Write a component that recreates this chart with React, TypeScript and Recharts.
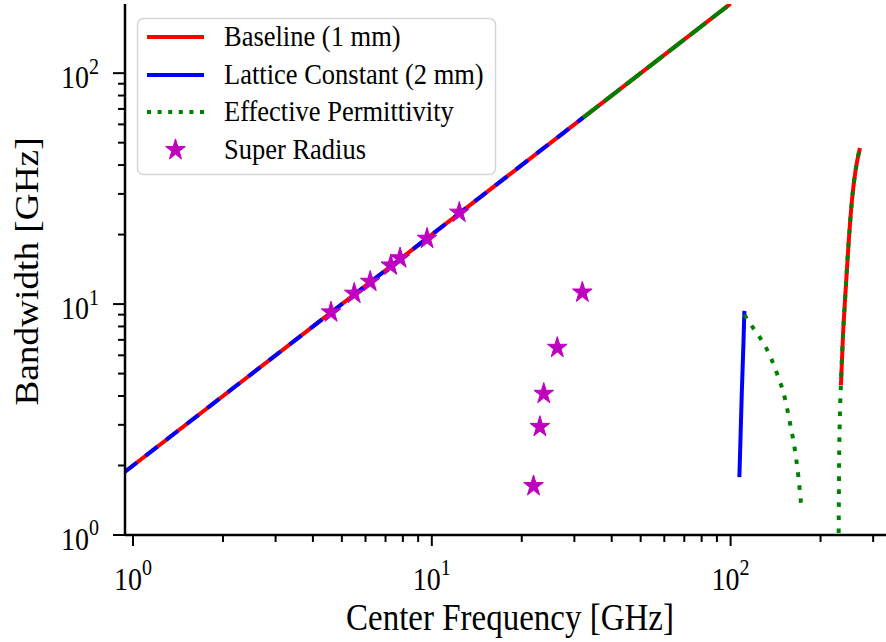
import React from "react";
import { ComposedChart, Line, Scatter, XAxis, YAxis, Legend, Label } from "recharts";

const FONT = "'Liberation Serif', 'Times New Roman', serif";
const RED = "#ff0000";
const BLUE = "#0000ff";
const GREEN = "#008000";
const MAGENTA = "#bf00bf";
// the source picture is a little taller than wide, so its text is stretched vertically
const SY = 1.12;

const X_DOMAIN = [0.94, 355];
const Y_DOMAIN = [1, 199.3];
const X_TICKS = [1, 2, 3, 4, 5, 6, 7, 8, 9, 10, 20, 30, 40, 50, 60, 70, 80, 90, 100, 200, 300];
const Y_TICKS = [1, 2, 3, 4, 5, 6, 7, 8, 9, 10, 20, 30, 40, 50, 60, 70, 80, 90, 100];

const SERIES_NAMES = ["Baseline (1 mm)", "Lattice Constant (2 mm)", "Effective Permittivity", "Super Radius"];

// Baseline (1 mm)
const baselineDiag = [
  { x: 0.94, y: 1.88 },
  { x: 3, y: 6 },
  { x: 10, y: 20 },
  { x: 32.1, y: 64.2 },
  { x: 100, y: 200 },
];
const baselineRight = [
  { x: 234, y: 4.46 },
  { x: 238, y: 7.5 },
  { x: 241.5, y: 10.4 },
  { x: 248, y: 18 },
  { x: 254.8, y: 28.2 },
  { x: 262, y: 38 },
  { x: 271, y: 47.4 },
];

// Lattice Constant (2 mm)
const latticeDiag = [
  { x: 0.94, y: 1.88 },
  { x: 10, y: 20 },
  { x: 32.1, y: 64.2 },
];
const latticeRight = [
  { x: 107, y: 1.78 },
  { x: 109, y: 4.1 },
  { x: 110.5, y: 7 },
  { x: 111.2, y: 9.35 },
];

// Effective Permittivity
const permDiag = [
  { x: 32.1, y: 64.2 },
  { x: 100, y: 200 },
];
const permMid = [
  { x: 111.2, y: 9.0 },
  { x: 118, y: 8.0 },
  { x: 125, y: 7.2 },
  { x: 132, y: 6.4 },
  { x: 143, y: 5.0 },
  { x: 152, y: 3.9 },
  { x: 158.5, y: 3.0 },
  { x: 164, y: 2.35 },
  { x: 168.5, y: 1.8 },
  { x: 172, y: 1.38 },
];
const permRight = [
  { x: 230, y: 1.02 },
  { x: 230.7, y: 2 },
  { x: 231.8, y: 3 },
  { x: 234, y: 4.46 },
  { x: 238, y: 7.5 },
  { x: 241.5, y: 10.4 },
  { x: 248, y: 18 },
  { x: 254.8, y: 28.2 },
  { x: 262, y: 38 },
  { x: 271, y: 47.4 },
];

// Super Radius
const radiusX = [4.6, 5.5, 6.22, 7.29, 7.83, 9.64, 12.36, 21.9, 23.0, 23.7, 26.3, 31.9];
const radiusY = [9.21, 11.1, 12.5, 14.7, 15.8, 19.2, 24.9, 1.63, 2.94, 4.09, 6.47, 11.23];
const radiusPts = radiusX.map((x, i) => ({ x, y: radiusY[i] }));

function isMajor(v: number) {
  const e = Math.round(Math.log10(v));
  return Math.abs(Math.pow(10, e) - v) < 1e-9 ? e : null;
}

function XTick({ x, y, payload }: any) {
  const e = isMajor(payload.value);
  return (
    <g>
      <line x1={x} x2={x} y1={y} y2={y + (e !== null ? 11 : 7)} stroke="#000" strokeWidth={2} />
      {e !== null && (
        <text
          transform={`translate(${x},${y + 55}) scale(1,${SY})`}
          textAnchor="middle"
          fontFamily={FONT}
          fontSize={28}
          fill="#000"
        >
          10
          <tspan dy={-13} fontSize={20}>
            {e}
          </tspan>
        </text>
      )}
    </g>
  );
}

function YTick({ x, y, payload }: any) {
  const e = isMajor(payload.value);
  return (
    <g>
      <line x1={x - (e !== null ? 12 : 7)} x2={x} y1={y} y2={y} stroke="#000" strokeWidth={2} />
      {e !== null && (
        <text
          transform={`translate(${x - 26},${y + 15}) scale(1,${SY})`}
          textAnchor="end"
          fontFamily={FONT}
          fontSize={28}
          fill="#000"
        >
          10
          <tspan dy={-13} fontSize={20}>
            {e}
          </tspan>
        </text>
      )}
    </g>
  );
}

function XTitle({ viewBox }: any) {
  const cx = viewBox.x + viewBox.width / 2;
  return (
    <text
      transform={`translate(${cx},${viewBox.y + 95}) scale(1,${SY})`}
      textAnchor="middle"
      fontFamily={FONT}
      fontSize={33}
      fill="#000"
    >
      Center Frequency [GHz]
    </text>
  );
}

function YTitle({ viewBox }: any) {
  const cy = viewBox.y + viewBox.height / 2;
  return (
    <text
      transform={`translate(38,${cy + 2}) rotate(-90) scale(1.13,1)`}
      textAnchor="middle"
      fontFamily={FONT}
      fontSize={33}
      fill="#000"
    >
      Bandwidth [GHz]
    </text>
  );
}

function starPoints(cx: number, cy: number, R: number) {
  const r = R * 0.381966;
  const pts: string[] = [];
  for (let i = 0; i < 10; i++) {
    const a = -Math.PI / 2 + (i * Math.PI) / 5;
    const rad = i % 2 === 0 ? R : r;
    pts.push(`${cx + rad * Math.cos(a)},${cy + rad * Math.sin(a) * 1.08}`);
  }
  return pts.join(" ");
}

function StarMark({ cx, cy }: any) {
  if (cx == null || cy == null) return null;
  return <polygon points={starPoints(cx, cy, 10.3)} fill={MAGENTA} stroke={MAGENTA} strokeWidth={1} />;
}

function LegendBox() {
  const rowY = [37, 75, 112, 150];
  return (
    <svg width={600} height={200} style={{ display: "block" }}>
      <rect x={137.5} y={18.5} width={358} height={156} rx={6} fill="#fff" fillOpacity={0.8} stroke="#d5d5d5" strokeWidth={1.5} />
      <line x1={147} x2={204} y1={rowY[0]} y2={rowY[0]} stroke={RED} strokeWidth={4} />
      <line x1={147} x2={204} y1={rowY[1]} y2={rowY[1]} stroke={BLUE} strokeWidth={4} />
      <line x1={147} x2={204} y1={rowY[2]} y2={rowY[2]} stroke={GREEN} strokeWidth={4} strokeDasharray="4 6.6" />
      <polygon points={starPoints(175.5, rowY[3], 10.3)} fill={MAGENTA} stroke={MAGENTA} strokeWidth={1} />
      {SERIES_NAMES.map((name, i) => (
        <text
          key={name}
          transform={`translate(224,${rowY[i] + 9}) scale(1,${SY})`}
          fontFamily={FONT}
          fontSize={26.5}
          fill="#000"
        >
          {name}
        </text>
      ))}
    </svg>
  );
}

export default function App() {
  return (
    <div
      style={{ position: "absolute", left: 0, top: 0, width: 886, height: 642, overflow: "hidden", background: "#fff" }}
    >
      <ComposedChart width={900} height={642} margin={{ top: 4, right: 5, bottom: 0, left: 0 }}>
        <XAxis
          dataKey="x"
          type="number"
          scale="log"
          domain={X_DOMAIN}
          allowDataOverflow
          ticks={X_TICKS}
          interval={0}
          tick={<XTick />}
          tickLine={false}
          tickSize={0}
          tickMargin={0}
          axisLine={{ stroke: "#000", strokeWidth: 2.5 }}
          height={107}
        >
          <Label content={<XTitle />} />
        </XAxis>
        <XAxis
          xAxisId="top"
          orientation="top"
          type="number"
          scale="log"
          domain={X_DOMAIN}
          allowDataOverflow
          height={0}
          tick={false}
          tickLine={false}
          axisLine={{ stroke: "#000", strokeWidth: 2.5 }}
        />
        <YAxis
          type="number"
          scale="log"
          domain={Y_DOMAIN}
          allowDataOverflow
          ticks={Y_TICKS}
          interval={0}
          tick={<YTick />}
          tickLine={false}
          tickSize={0}
          tickMargin={0}
          axisLine={{ stroke: "#000", strokeWidth: 2.5 }}
          width={125}
        >
          <Label content={<YTitle />} />
        </YAxis>
        <Legend
          layout="horizontal"
          verticalAlign="middle"
          align="center"
          wrapperStyle={{ left: 0, top: 0, width: 600, height: 200 }}
          content={() => <LegendBox />}
        />

        <Line data={baselineDiag} dataKey="y" type="linear" stroke={RED} strokeWidth={4} dot={false} activeDot={false} isAnimationActive={false} />
        <Line data={baselineRight} dataKey="y" type="monotone" stroke={RED} strokeWidth={4} dot={false} activeDot={false} isAnimationActive={false} />
        <Line data={latticeDiag} dataKey="y" type="linear" stroke={BLUE} strokeWidth={4} strokeDasharray="15 11" strokeLinecap="butt" dot={false} activeDot={false} isAnimationActive={false} />
        <Line data={latticeRight} dataKey="y" type="monotone" stroke={BLUE} strokeWidth={4} dot={false} activeDot={false} isAnimationActive={false} />
        <Line data={permDiag} dataKey="y" type="linear" stroke={GREEN} strokeWidth={4} strokeDasharray="20 7" strokeLinecap="butt" dot={false} activeDot={false} isAnimationActive={false} />
        <Line data={permMid} dataKey="y" type="monotone" stroke={GREEN} strokeWidth={4} strokeDasharray="4.5 8.5" strokeLinecap="butt" dot={false} activeDot={false} isAnimationActive={false} />
        <Line data={permRight} dataKey="y" type="monotone" stroke={GREEN} strokeWidth={4} strokeDasharray="4.5 8.5" strokeLinecap="butt" dot={false} activeDot={false} isAnimationActive={false} />
        <Scatter data={radiusPts} dataKey="y" shape={<StarMark />} isAnimationActive={false} />
      </ComposedChart>
    </div>
  );
}
